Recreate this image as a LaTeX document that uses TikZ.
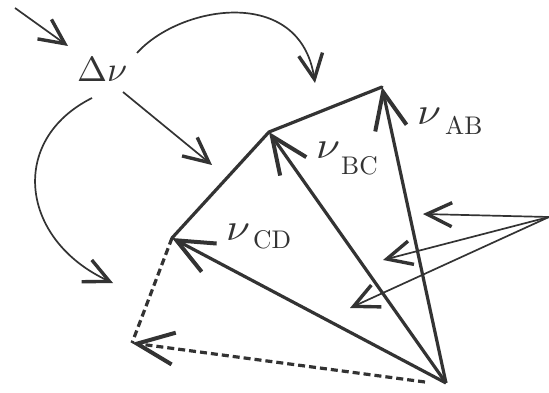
\documentclass[tikz,border=0pt]{standalone}
\usetikzlibrary{arrows.meta}
\definecolor{ink}{HTML}{333333}
\tikzset{
  bigtip/.style={-{Straight Barb[length=37pt,width=32pt,line width=4pt]}},
  smalltip/.style={-{Straight Barb[length=25pt,width=24pt,line width=3.4pt]}},
  thickline/.style={ink,line width=3.2pt},
  thinline/.style={ink,line width=1.7pt},
  dashline/.style={ink,line width=3.2pt,dash pattern=on 7pt off 4pt},
  nu/.style={ink,inner sep=0pt,anchor=base west},
  sub/.style={ink,inner sep=0pt,anchor=base west},
}
\newcommand{\bignu}{\scalebox{4.3}[3.8]{$\nu$}}
\newcommand{\subtxt}[1]{\scalebox{2.55}{#1}}
\begin{document}
\begin{tikzpicture}[x=1pt,y=-1pt]
\useasboundingbox (0,0) rectangle (549,393);
\coordinate (O) at (446,383);
\coordinate (A) at (382,87);
\coordinate (B) at (269,132);
\coordinate (C) at (172,238);
\coordinate (D) at (132,343);
\coordinate (R) at (549,217);
\coordinate (in) at (15,8);
\coordinate (Dstart) at (425,382);

% polygon edges
\draw[thickline,line cap=round] (A) -- (B) -- (C);
\draw[dashline] (C) -- (D);
% vectors
\draw[thickline,bigtip] (O) -- (A);
\draw[thickline,bigtip] (O) -- (B);
\draw[thickline,bigtip] (O) -- (C);
\draw[dashline,bigtip] (Dstart) -- (D);

% labels
\node[nu] (dv) at (77,82) {\scalebox{3.6}[3.5]{$\Delta\nu$}};
\node[nu] (nuAB) at (417,125) {\bignu};
\node[sub] (sAB) at (445,135) {\subtxt{AB}};
\node[nu] (nuBC) at (316,159) {\bignu};
\node[sub] (sBC) at (341,175) {\subtxt{BC}};
\node[nu] (nuCD) at (226,240) {\bignu};
\node[sub] (sCD) at (253,248) {\subtxt{CD}};

% thin arrows
\coordinate (t1) at (68,46);
\coordinate (t2) at (315,83);
\coordinate (t3) at (212,165);
\coordinate (t4) at (113,283);
\draw[thinline,smalltip] (in) -- (t1);
\draw[thinline,smalltip] (137,53) .. controls (180,5) and (300,-15) .. (t2);
\draw[thinline,smalltip] (123,92) -- (t3);
\draw[thinline,smalltip] (92,98) .. controls (8,140) and (20,240) .. (t4);

\coordinate (r1) at (423,214);
\coordinate (r2) at (383,260);
\coordinate (r3) at (350,308);
\draw[thinline,smalltip] (R) -- (r1);
\draw[thinline,smalltip] (R) -- (r2);
\draw[thinline,smalltip] (R) -- (r3);
\end{tikzpicture}
\end{document}
